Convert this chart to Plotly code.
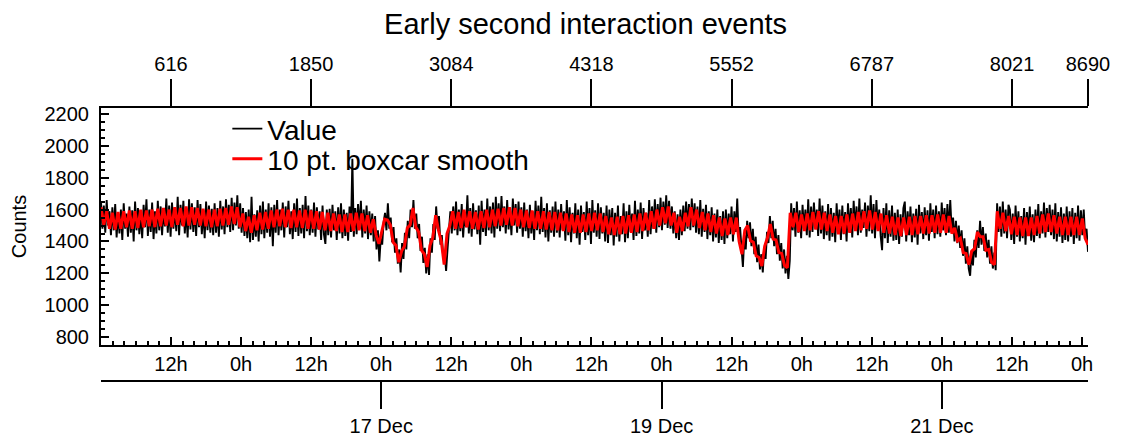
import numpy as np
import pandas as pd
import plotly.graph_objects as go

# ---------------- data ----------------
title_text = "Early second interaction events"
y_title = "Counts"
series_names = ["Value", "10 pt. boxcar smooth"]
top_tick_values = [616, 1850, 3084, 4318, 5552, 6787, 8021, 8690]
last_index = 8690
start_time = "2015-12-15 00:01:16"
sample_seconds = 70.007

# raw counts (evenly spaced over sample index 0 .. 8690)
value_counts = [
    1650, 1480, 1625, 1455, 1660, 1500, 1590, 1440, 1615, 1470, 1635, 1425, 1580, 1450, 1600, 1410, 1640, 1480, 1575, 1430,
    1620, 1455, 1595, 1400, 1650, 1470, 1610, 1445, 1585, 1420, 1630, 1490, 1665, 1435, 1600, 1460, 1645, 1415, 1590, 1450,
    1655, 1470, 1620, 1440, 1600, 1495, 1670, 1455, 1625, 1430, 1645, 1480, 1610, 1465, 1680, 1440, 1630, 1500, 1655, 1450,
    1600, 1425, 1665, 1475, 1640, 1460, 1615, 1435, 1660, 1490, 1635, 1445, 1595, 1420, 1650, 1470, 1625, 1455, 1605, 1440,
    1640, 1455, 1610, 1430, 1655, 1475, 1620, 1445, 1665, 1490, 1630, 1460, 1675, 1470, 1645, 1500, 1690, 1480, 1640, 1455,
    1610, 1435, 1585, 1420, 1600, 1395, 1680, 1410, 1570, 1430, 1595, 1400, 1625, 1445, 1650, 1420, 1600, 1455, 1640, 1430,
    1615, 1370, 1630, 1455, 1660, 1440, 1600, 1470, 1645, 1425, 1620, 1490, 1655, 1445, 1590, 1415, 1640, 1460, 1670, 1435,
    1610, 1450, 1630, 1420, 1685, 1465, 1625, 1440, 1600, 1455, 1645, 1430, 1615, 1475, 1590, 1410, 1625, 1445, 1385, 1600,
    1440, 1605, 1425, 1630, 1470, 1590, 1410, 1615, 1450, 1640, 1420, 1600, 1435, 1580, 1405, 1620, 1460, 1920, 1430, 1610,
    1445, 1635, 1480, 1655, 1425, 1600, 1450, 1625, 1415, 1590, 1440, 1575, 1400, 1560, 1350, 1470, 1275, 1420, 1380, 1520,
    1580, 1470, 1640, 1480, 1550, 1395, 1490, 1330, 1420, 1260, 1350, 1205, 1390, 1290, 1455, 1350, 1530, 1420, 1600, 1490,
    1660, 1480, 1575, 1420, 1510, 1340, 1430, 1265, 1360, 1200, 1320, 1190, 1420, 1330, 1510, 1410, 1620, 1480, 1560, 1380,
    1440, 1290, 1330, 1215, 1350, 1480, 1590, 1450, 1620, 1470, 1650, 1440, 1600, 1465, 1635, 1425, 1580, 1490, 1690, 1450,
    1610, 1430, 1640, 1475, 1595, 1445, 1625, 1380, 1655, 1460, 1600, 1435, 1670, 1470, 1620, 1450, 1645, 1425, 1680, 1480,
    1640, 1465, 1685, 1490, 1620, 1450, 1660, 1475, 1600, 1440, 1670, 1500, 1635, 1455, 1650, 1480, 1615, 1430, 1645, 1465,
    1600, 1420, 1630, 1450, 1590, 1410, 1655, 1470, 1625, 1445, 1680, 1460, 1610, 1425, 1640, 1400, 1595, 1455, 1620, 1430,
    1650, 1455, 1600, 1425, 1635, 1470, 1590, 1405, 1660, 1440, 1615, 1395, 1580, 1450, 1640, 1420, 1600, 1380, 1625, 1460,
    1585, 1410, 1650, 1440, 1610, 1385, 1660, 1455, 1595, 1430, 1640, 1415, 1615, 1450, 1580, 1400, 1625, 1390, 1600, 1440,
    1610, 1375, 1580, 1430, 1625, 1400, 1560, 1445, 1640, 1395, 1590, 1420, 1630, 1460, 1575, 1410, 1655, 1435, 1600, 1450,
    1645, 1415, 1610, 1470, 1580, 1430, 1660, 1445, 1620, 1480, 1665, 1455, 1635, 1490, 1675, 1470, 1650, 1505, 1690, 1485,
    1655, 1480, 1620, 1450, 1590, 1420, 1570, 1410, 1600, 1440, 1625, 1465, 1650, 1480, 1635, 1470, 1670, 1490, 1640, 1455,
    1620, 1445, 1660, 1430, 1605, 1460, 1630, 1415, 1590, 1440, 1615, 1400, 1575, 1425, 1600, 1390, 1560, 1410, 1590, 1385,
    1600, 1420, 1575, 1445, 1620, 1400, 1590, 1460, 1670, 1430, 1490, 1360, 1240, 1440, 1350, 1530, 1420, 1520, 1370, 1480,
    1320, 1430, 1270, 1380, 1225, 1320, 1205, 1360, 1290, 1460, 1390, 1560, 1420, 1530, 1370, 1480, 1320, 1440, 1280, 1390,
    1230, 1350, 1200, 1310, 1165, 1280, 1640, 1470, 1610, 1430, 1650, 1455, 1595, 1420, 1630, 1470, 1600, 1440, 1665, 1425,
    1620, 1460, 1645, 1490, 1600, 1435, 1670, 1450, 1625, 1415, 1590, 1440, 1635, 1405, 1610, 1430, 1580, 1395, 1640, 1455,
    1600, 1410, 1625, 1445, 1585, 1400, 1640, 1460, 1610, 1425, 1655, 1470, 1620, 1440, 1670, 1455, 1600, 1485, 1645, 1430,
    1625, 1465, 1690, 1450, 1635, 1420, 1660, 1475, 1600, 1435, 1345, 1610, 1420, 1640, 1390, 1595, 1430, 1625, 1405, 1580,
    1410, 1600, 1385, 1570, 1430, 1610, 1650, 1400, 1590, 1440, 1620, 1395, 1575, 1425, 1605, 1380, 1630, 1450, 1585, 1415,
    1615, 1440, 1595, 1405, 1640, 1460, 1600, 1420, 1625, 1445, 1590, 1430, 1645, 1470, 1610, 1440, 1635, 1455, 1660, 1470,
    1550, 1400, 1530, 1390, 1500, 1360, 1470, 1310, 1420, 1260, 1370, 1230, 1185, 1340, 1250, 1410, 1300, 1470, 1360, 1530,
    1380, 1490, 1340, 1450, 1300, 1410, 1260, 1370, 1230, 1330, 1220, 1640, 1460, 1620, 1430, 1650, 1450, 1600, 1420, 1630,
    1600, 1410, 1575, 1385, 1625, 1430, 1590, 1400, 1560, 1420, 1610, 1380, 1585, 1440, 1620, 1405, 1570, 1395, 1600, 1435,
    1635, 1420, 1590, 1450, 1645, 1425, 1610, 1460, 1630, 1440, 1600, 1415, 1640, 1400, 1585, 1430, 1615, 1390, 1575, 1410,
    1620, 1400, 1590, 1430, 1610, 1385, 1580, 1420, 1625, 1405, 1595, 1440, 1600, 1420, 1480, 1335,
]

# 10-point boxcar smooth (evenly spaced over sample index 0 .. 8690)
smooth_counts = [
    1615, 1505, 1590, 1480, 1580, 1475, 1585, 1480, 1590, 1490, 1595, 1480, 1590, 1485, 1600, 1490, 1595, 1495, 1600, 1490,
    1605, 1495, 1610, 1500, 1600, 1490, 1615, 1505, 1610, 1495, 1620, 1500, 1615, 1505, 1610, 1500, 1605, 1495, 1600, 1490,
    1600, 1495, 1605, 1500, 1610, 1505, 1620, 1510, 1615, 1490, 1575, 1465, 1555, 1455, 1565, 1470, 1580, 1475, 1585, 1480,
    1595, 1490, 1600, 1495, 1605, 1490, 1600, 1485, 1600, 1490, 1595, 1485, 1600, 1480, 1595, 1480, 1590, 1475, 1585, 1470,
    1580, 1465, 1575, 1465, 1570, 1460, 1570, 1460, 1575, 1465, 1580, 1470, 1575, 1465, 1565, 1455, 1540, 1440, 1385, 1460,
    1540, 1535, 1505, 1395, 1375, 1270, 1340, 1370, 1485, 1505, 1610, 1490, 1460, 1345, 1320, 1240, 1375, 1425, 1565, 1470,
    1400, 1255, 1450, 1500, 1590, 1480, 1585, 1485, 1600, 1490, 1590, 1480, 1585, 1475, 1590, 1485, 1600, 1490, 1600, 1495,
    1605, 1500, 1610, 1505, 1615, 1500, 1610, 1495, 1600, 1490, 1595, 1485, 1595, 1480, 1590, 1480, 1590, 1475, 1585, 1470,
    1585, 1470, 1580, 1465, 1575, 1460, 1570, 1455, 1565, 1455, 1570, 1460, 1575, 1465, 1580, 1470, 1575, 1460, 1560, 1445,
    1550, 1440, 1555, 1445, 1560, 1450, 1565, 1455, 1570, 1460, 1575, 1465, 1580, 1470, 1590, 1480, 1600, 1500, 1615, 1515,
    1620, 1500, 1580, 1455, 1555, 1465, 1580, 1495, 1615, 1500, 1600, 1485, 1585, 1470, 1575, 1460, 1565, 1450, 1550, 1435,
    1545, 1440, 1550, 1445, 1550, 1400, 1320, 1470, 1500, 1405, 1395, 1310, 1300, 1245, 1370, 1425, 1510, 1415, 1410, 1330,
    1325, 1250, 1235, 1580, 1490, 1580, 1460, 1570, 1465, 1575, 1470, 1585, 1475, 1590, 1475, 1580, 1465, 1570, 1455, 1560,
    1445, 1560, 1450, 1570, 1455, 1575, 1465, 1585, 1470, 1590, 1480, 1595, 1475, 1585, 1465, 1575, 1455, 1565, 1450, 1555,
    1440, 1550, 1435, 1550, 1440, 1555, 1440, 1560, 1445, 1560, 1450, 1565, 1450, 1565, 1455, 1570, 1455, 1570, 1455, 1560,
    1450, 1485, 1405, 1420, 1330, 1325, 1255, 1340, 1355, 1460, 1430, 1430, 1345, 1350, 1270, 1255, 1590, 1480, 1580, 1465,
    1560, 1445, 1555, 1440, 1550, 1435, 1550, 1435, 1550, 1440, 1560, 1450, 1570, 1460, 1575, 1460, 1565, 1450, 1555, 1440,
    1555, 1440, 1555, 1440, 1555, 1440, 1545, 1420, 1380,
]

date_tick_format = "%-d %b"
hour_tick_format = "%-Hh"

# ---------------- derived sample positions ----------------
value_index = np.linspace(0, last_index, len(value_counts))
smooth_index = np.linspace(0, last_index, len(smooth_counts))
t0 = pd.Timestamp(start_time)


def index_to_time(idx):
    return t0 + pd.to_timedelta(np.asarray(idx, dtype=float) * sample_seconds, unit="s")


value_time = index_to_time(value_index)
t_end = index_to_time([last_index])[0]
date_range = [t0.strftime("%Y-%m-%d %H:%M:%S"), t_end.strftime("%Y-%m-%d %H:%M:%S")]

# page body has an 8px margin: the figure is sized to fill the rest of the window
FONT = "Liberation Sans, Arial, Helvetica, sans-serif"
W, H = 1114, 430
ML, MR, MT, MB = 93, 34, 100, 57
plot_h = H - MT - MB
y_domain_start = 36 / plot_h

fig = go.Figure()
fig.add_trace(go.Scatter(
    x=value_time, y=value_counts, mode="lines", name=series_names[0],
    xaxis="x", yaxis="y", legend="legend",
    line=dict(color="black", width=1.9),
))
fig.add_trace(go.Scatter(
    x=smooth_index, y=smooth_counts, mode="lines", name=series_names[1],
    xaxis="x2", yaxis="y", legend="legend2",
    line=dict(color="#ff0000", width=3),
))
# transparent copy of the measured series so that the date row axis is laid out
fig.add_trace(go.Scatter(
    x=value_time, y=value_counts, mode="lines", xaxis="x3", yaxis="y",
    showlegend=False, hoverinfo="skip", opacity=0, line=dict(width=0.1),
))

tickfont = dict(family=FONT, size=20, color="black")
common = dict(showline=True, linecolor="black", linewidth=2, showgrid=False,
              zeroline=False, tickcolor="black", tickwidth=2, tickfont=tickfont,
              automargin=False)
legend_common = dict(xref="paper", yref="paper", xanchor="left", yanchor="top",
                     bgcolor="rgba(0,0,0,0)", borderwidth=0,
                     font=dict(family=FONT, size=28, color="black"), itemwidth=30)

fig.update_layout(
    template="none",
    width=W, height=H,
    margin=dict(l=ML, r=MR, t=MT, b=MB, pad=0),
    paper_bgcolor="white", plot_bgcolor="white",
    font=dict(family=FONT, color="black", size=20),
    title=dict(text=title_text, x=0.491, xref="paper", xanchor="center",
               y=1 - 16 / H, yref="container", yanchor="middle",
               font=dict(family=FONT, size=29, color="black")),
    showlegend=True,
    legend=dict(x=0.128, y=1.015, **legend_common),
    legend2=dict(x=0.128, y=0.905, **legend_common),
    xaxis=dict(
        type="date", range=date_range, anchor="y", side="bottom",
        tickmode="linear", tick0="2015-12-15 12:00:00", dtick=43200000,
        tickformat=hour_tick_format, ticks="inside", ticklen=8,
        minor=dict(ticks="inside", ticklen=4, tickwidth=2, tickcolor="black",
                   tick0="2015-12-15 00:00:00", dtick=7200000, showgrid=False),
        **common,
    ),
    xaxis2=dict(
        type="linear", range=[0, last_index], overlaying="x", anchor="y", side="top",
        tickmode="array", tickvals=top_tick_values, ticktext=[str(v) for v in top_tick_values],
        ticks="outside", ticklen=27,
        **common,
    ),
    xaxis3=dict(
        type="date", range=date_range, overlaying="x", anchor="free", position=0, side="bottom",
        tickmode="linear", tick0="2015-12-17 00:00:00", dtick=172800000,
        tickformat=date_tick_format, ticks="outside", ticklen=27,
        **common,
    ),
    yaxis=dict(
        domain=[y_domain_start, 1], range=[750, 2238], anchor="x",
        tickmode="linear", tick0=0, dtick=200, ticks="inside", ticklen=8,
        ticklabelstandoff=6,
        minor=dict(ticks="inside", ticklen=4, tickwidth=2, tickcolor="black", dtick=50, showgrid=False),
        title=dict(text=y_title, standoff=18, font=dict(family=FONT, size=20, color="black")),
        **common,
    ),
)

fig.write_html("out.html")
